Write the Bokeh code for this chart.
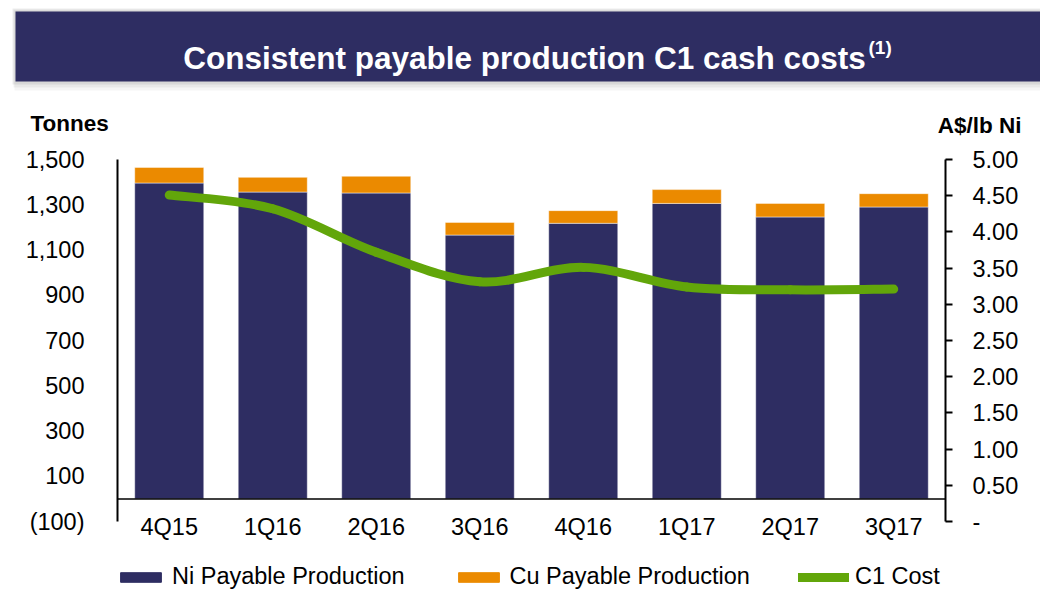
from bokeh.plotting import figure
from bokeh.layouts import column
from bokeh.models import (Range1d, LinearAxis, FixedTicker, Span, Legend, LegendItem,
                          ColumnDataSource)
from bokeh.core.properties import value
from bokeh.embed import file_html
from bokeh.resources import INLINE

# ---------------- data ----------------
categories = ["4Q15", "1Q16", "2Q16", "3Q16", "4Q16", "1Q17", "2Q17", "3Q17"]
ni_production = [1396, 1356, 1352, 1166, 1218, 1306, 1246, 1290]
cu_production = [69, 65, 74, 56, 56, 61, 60, 59]
c1_cost = [4.51, 4.32, 3.72, 3.31, 3.51, 3.24, 3.20, 3.21]
left_ticks = [-100, 100, 300, 500, 700, 900, 1100, 1300, 1500]
left_tick_labels = ["(100)", "100", "300", "500", "700", "900", "1,100", "1,300", "1,500"]
right_ticks = [0, 0.5, 1.0, 1.5, 2.0, 2.5, 3.0, 3.5, 4.0, 4.5, 5.0]
right_tick_labels = ["-", "0.50", "1.00", "1.50", "2.00", "2.50", "3.00", "3.50", "4.00", "4.50", "5.00"]
title_text = "Consistent payable production C1 cash costs"
title_note = "(1)"
left_title = "Tonnes"
right_title = "A$/lb Ni"
series_names = ["Ni Payable Production", "Cu Payable Production", "C1 Cost"]

# ---------------- style ----------------
NAVY = "#2E2D62"
ORANGE = "#EB8A00"
GREEN = "#62A60A"
FONT = "Liberation Sans"
FS = "23.5px"
W = 1040

n = len(categories)
xs = [i + 0.5 for i in range(n)]
totals = [a + b for a, b in zip(ni_production, cu_production)]

# ================= header (banner + axis titles) =================
TOP_H = 141
top = figure(width=W, height=TOP_H, output_backend="svg", toolbar_location=None,
             x_range=Range1d(0, W), y_range=Range1d(TOP_H, 0),
             x_axis_type=None, y_axis_type=None, frame_align=False,
             min_border_left=0, min_border_right=0, min_border_top=0, min_border_bottom=0)
top.grid.visible = False
top.outline_line_color = None
# soft shadow
top.quad(left=[12, 13, 14], right=[W, W, W], top=[8, 9, 10], bottom=[84, 87, 90],
         fill_color="black", fill_alpha=[0.07, 0.05, 0.04], line_alpha=0)
top.quad(left=[15], right=[W], top=[11], bottom=[81], fill_color=NAVY, line_alpha=0)
top.text(x=[524], y=[57], text=[title_text], text_align="center", text_baseline="alphabetic",
         text_font=value(FONT), text_font_style="bold", text_font_size="31.5px",
         text_color="white")
top.text(x=[868], y=[47], text=[title_note], text_align="left", text_baseline="alphabetic",
         text_font=value(FONT), text_font_style="bold", text_font_size="19px",
         text_color="white")
top.text(x=[30], y=[123], text=[left_title], text_align="left", text_baseline="alphabetic",
         text_font=value(FONT), text_font_style="bold", text_font_size="22.5px",
         text_color="black")
top.text(x=[1021], y=[125], text=[right_title], text_align="right", text_baseline="alphabetic",
         text_font=value(FONT), text_font_style="bold", text_font_size="22.5px",
         text_color="black")

# ================= main chart =================
MAIN_H = 414
fig = figure(width=W, height=MAIN_H, output_backend="svg", toolbar_location=None,
             x_range=Range1d(0, n), y_range=Range1d(-100, 1500), frame_align=False,
             min_border_left=117, min_border_right=W - 945, min_border_top=159 - TOP_H,
             min_border_bottom=MAIN_H - (521 - TOP_H))
fig.extra_y_ranges = {"right": Range1d(0, 5)}
fig.grid.visible = False
fig.outline_line_color = None

src = ColumnDataSource(dict(x=xs, ni=ni_production, total=totals))
fig.vbar(x="x", bottom=0, top="ni", width=0.667, source=src,
         fill_color=NAVY, line_color="white", line_alpha=0.45, line_width=1)
fig.vbar(x="x", bottom="ni", top="total", width=0.667, source=src,
         fill_color=ORANGE, line_color="white", line_alpha=0.45, line_width=1)

fig.add_layout(Span(location=0, dimension="width", line_color="black", line_width=1.5))

# smoothed C1 cost line (Bezier segments through the data points)
x0s, y0s, x1s, y1s, cx0s, cy0s, cx1s, cy1s = [], [], [], [], [], [], [], []
for i in range(n - 1):
    a = max(i - 1, 0)
    b = min(i + 2, n - 1)
    x0s.append(xs[i]); y0s.append(c1_cost[i])
    x1s.append(xs[i + 1]); y1s.append(c1_cost[i + 1])
    cx0s.append(xs[i] + (xs[i + 1] - xs[a]) / 6)
    cy0s.append(c1_cost[i] + (c1_cost[i + 1] - c1_cost[a]) / 6)
    cx1s.append(xs[i + 1] - (xs[b] - xs[i]) / 6)
    cy1s.append(c1_cost[i + 1] - (c1_cost[b] - c1_cost[i]) / 6)
fig.bezier(x0=x0s, y0=y0s, x1=x1s, y1=y1s, cx0=cx0s, cy0=cy0s, cx1=cx1s, cy1=cy1s,
           y_range_name="right", line_color=GREEN, line_width=9, line_cap="round")

xa = fig.xaxis[0]
xa.ticker = FixedTicker(ticks=xs)
xa.major_label_overrides = {x: c for x, c in zip(xs, categories)}
xa.axis_line_color = None
xa.major_tick_line_color = None
xa.minor_tick_line_color = None
xa.major_label_standoff = -14
xa.major_label_text_font = FONT
xa.major_label_text_font_size = FS
xa.major_label_text_color = "black"

ya = fig.yaxis[0]
ya.ticker = FixedTicker(ticks=left_ticks)
ya.major_label_overrides = {t: l for t, l in zip(left_ticks, left_tick_labels)}
ya.axis_line_color = "black"
ya.axis_line_width = 2
ya.major_tick_line_color = None
ya.minor_tick_line_color = None
ya.major_label_standoff = 27
ya.major_label_text_font = FONT
ya.major_label_text_font_size = FS
ya.major_label_text_color = "black"

ra = LinearAxis(y_range_name="right")
ra.ticker = FixedTicker(ticks=right_ticks)
ra.major_label_overrides = {t: l for t, l in zip(right_ticks, right_tick_labels)}
ra.axis_line_color = "black"
ra.axis_line_width = 2
ra.major_tick_line_color = "black"
ra.major_tick_line_width = 2
ra.major_tick_out = 7
ra.major_tick_in = 0
ra.minor_tick_line_color = None
ra.major_label_standoff = 20
ra.major_label_text_font = FONT
ra.major_label_text_font_size = FS
ra.major_label_text_color = "black"
fig.add_layout(ra, "right")

# ================= legend strip =================
LEG_H = 35
leg = figure(width=W, height=LEG_H, output_backend="svg", toolbar_location=None,
             x_range=Range1d(0, W), y_range=Range1d(0, LEG_H),
             x_axis_type=None, y_axis_type=None, frame_align=False,
             min_border_left=0, min_border_right=0, min_border_top=0, min_border_bottom=0)
leg.grid.visible = False
leg.outline_line_color = None
offscreen = ColumnDataSource(dict(x=[-1000], y=[-1000]))
k_ni = leg.vbar(x="x", top="y", width=1, source=offscreen, fill_color=NAVY, line_color=NAVY)
k_cu = leg.vbar(x="x", top="y", width=1, source=offscreen, fill_color=ORANGE, line_color=ORANGE)
k_c1 = leg.line(x="x", y="y", source=offscreen, line_color=GREEN, line_width=9, line_cap="round")
legend = Legend(items=[LegendItem(label=series_names[0], renderers=[k_ni]),
                       LegendItem(label=series_names[1], renderers=[k_cu]),
                       LegendItem(label=series_names[2], renderers=[k_c1])],
                location=(115, 0), orientation="horizontal",
                glyph_width=51, glyph_height=12, label_standoff=6, spacing=48,
                padding=0, margin=0, border_line_alpha=0, background_fill_alpha=0,
                label_text_font=FONT, label_text_font_size=FS, label_text_color="black")
leg.add_layout(legend, "center")

p = column(top, fig, leg, spacing=0)
open("out.html", "w").write(file_html(p, INLINE))
